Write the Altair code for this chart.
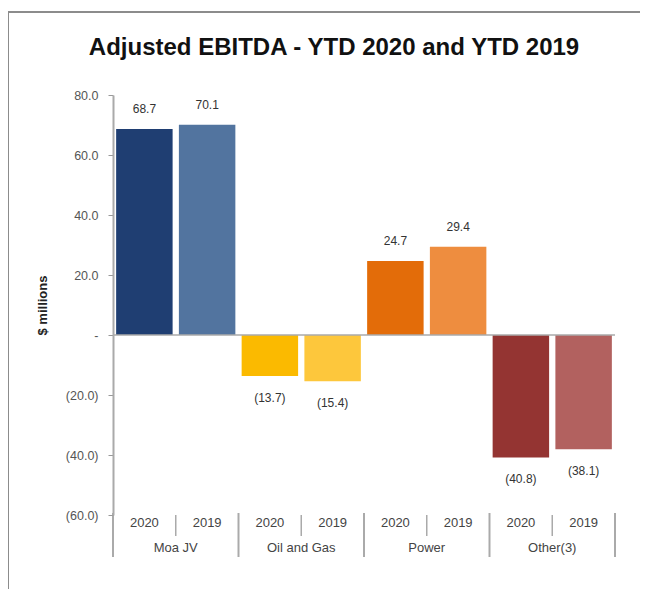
import altair as alt
import pandas as pd

categories = ["Moa JV", "Moa JV", "Oil and Gas", "Oil and Gas", "Power", "Power", "Other(3)", "Other(3)"]
years = ["2020", "2019", "2020", "2019", "2020", "2019", "2020", "2019"]
values = [68.7, 70.1, -13.7, -15.4, 24.7, 29.4, -40.8, -38.1]
colors = ["#1F3E72", "#52749F", "#FBBA00", "#FDC73C", "#E36C09", "#EE8D3F", "#943432", "#B2615F"]
group_names = ["Moa JV", "Oil and Gas", "Power", "Other(3)"]
y_ticks = [-60, -40, -20, 0, 20, 40, 60, 80]
title_text = "Adjusted EBITDA - YTD 2020 and YTD 2019"

FONT = "Liberation Sans"

rows = []
for i, (c, yr, v) in enumerate(zip(categories, years, values)):
    rows.append({
        "idx": i, "x0": i + 0.05, "x1": i + 0.95, "xm": i + 0.5,
        "key": f"{c} {yr}", "year": yr, "value": v,
        "label": f"{v:.1f}" if v > 0 else f"({-v:.1f})",
    })
df = pd.DataFrame(rows)
keys = list(df["key"])

grp = pd.DataFrame({"name": group_names, "xc": [2 * i + 1 for i in range(len(group_names))]})
major = pd.DataFrame({"xs": [2 * i for i in range(len(group_names) + 1)]})
minor = pd.DataFrame({"xs": [2 * i + 1 for i in range(len(group_names))]})
zero = pd.DataFrame({"xa": [0], "xb": [len(values)], "y": [0]})
ttl = pd.DataFrame({"t": [title_text]})

xscale = alt.Scale(domain=[0, len(values)], nice=False, zero=False)
yscale = alt.Scale(domain=[-60, 80], nice=False)

label_expr = ("datum.value > 0 ? format(datum.value, '.1f') : "
              "(datum.value < 0 ? '(' + format(-datum.value, '.1f') + ')' : '-')")

frame = alt.Chart(zero).mark_rect(fillOpacity=0, stroke="#8c8c8c", strokeWidth=2).encode(
    x=alt.value(-105), x2=alt.value(700), y=alt.value(-83), y2=alt.value(700)
)

title = alt.Chart(ttl).mark_text(
    font=FONT, fontSize=24, fontWeight="bold", color="#111111", baseline="middle", align="center"
).encode(x=alt.value(221), y=alt.value(-47), text="t:N")

bars = alt.Chart(df).mark_bar().encode(
    x=alt.X("x0:Q", scale=xscale, axis=None),
    x2="x1:Q",
    y=alt.Y("value:Q", scale=yscale, axis=alt.Axis(
        values=y_ticks, labelExpr=label_expr, grid=False,
        domain=True, domainColor="#aaaaaa", domainWidth=2,
        ticks=True, tickColor="#999999", tickSize=5,
        labelFont=FONT, labelFontSize=12.5, labelColor="#555555", labelPadding=10,
        title="$ millions", titleFont=FONT, titleFontSize=13, titleFontWeight="bold",
        titleColor="#222222", titlePadding=16, zindex=1,
    )),
    y2=alt.datum(0),
    color=alt.Color("key:N", scale=alt.Scale(domain=keys, range=colors), legend=None),
)

zero_line = alt.Chart(zero).mark_rule(color="#aaaaaa", strokeWidth=1.5).encode(
    x=alt.X("xa:Q", scale=xscale), x2="xb:Q", y=alt.Y("y:Q", scale=yscale)
)

pos_labels = alt.Chart(df).transform_filter("datum.value > 0").mark_text(
    dy=-20, baseline="middle", font=FONT, fontSize=12, color="#333333"
).encode(x=alt.X("xm:Q", scale=xscale), y=alt.Y("value:Q", scale=yscale), text="label:N")

neg_labels = alt.Chart(df).transform_filter("datum.value < 0").mark_text(
    dy=22, baseline="middle", font=FONT, fontSize=12, color="#333333"
).encode(x=alt.X("xm:Q", scale=xscale), y=alt.Y("value:Q", scale=yscale), text="label:N")

year_labels = alt.Chart(df).mark_text(
    baseline="middle", font=FONT, fontSize=13, color="#444444"
).encode(x=alt.X("xm:Q", scale=xscale), y=alt.value(428), text="year:N")

group_labels = alt.Chart(grp).mark_text(
    baseline="middle", font=FONT, fontSize=13, color="#444444"
).encode(x=alt.X("xc:Q", scale=xscale), y=alt.value(453), text="name:N")

major_seps = alt.Chart(major).mark_rule(color="#aaaaaa", strokeWidth=2).encode(
    x=alt.X("xs:Q", scale=xscale), y=alt.value(418), y2=alt.value(462)
)
minor_seps = alt.Chart(minor).mark_rule(color="#aaaaaa", strokeWidth=1.5).encode(
    x=alt.X("xs:Q", scale=xscale), y=alt.value(420), y2=alt.value(441)
)

chart = alt.layer(
    frame, title, bars, zero_line, pos_labels, neg_labels, year_labels, group_labels, major_seps, minor_seps
).properties(
    width=502, height=420,
    autosize=alt.AutoSizeParams(type="none"),
    padding={"left": 105, "top": 87, "right": 25, "bottom": 74},
).configure(background="white").configure_view(stroke=None)

chart.save("out.html", embed_options={"renderer": "svg", "actions": False})
